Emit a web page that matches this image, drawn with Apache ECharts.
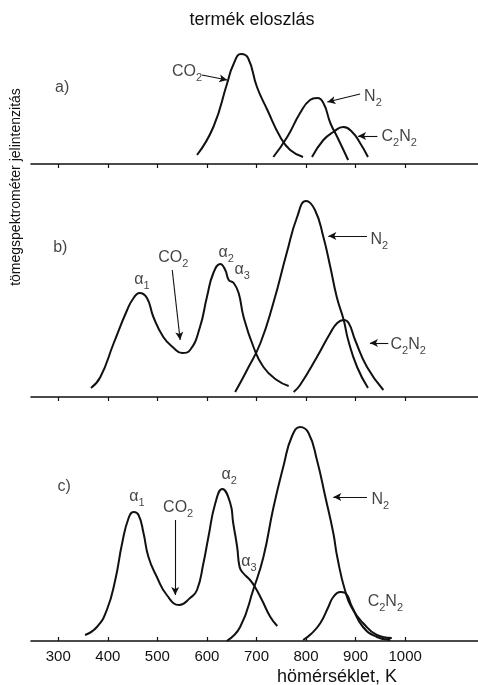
<!DOCTYPE html>
<html>
<head>
<meta charset="utf-8">
<script src="https://cdn.jsdelivr.net/npm/echarts@6/dist/echarts.min.js"></script>
<style>html,body{margin:0;padding:0;background:#fff;}#c{width:478px;height:685px;}</style>
</head>
<body>
<div id="c"></div>
<script>
// ---- data (temperature K, intensity arbitrary units) ----
const tickValues = [300, 400, 500, 600, 700, 800, 900, 1000];

const aCO2  = [[580,9],[613,37],[641,81],[653,99],[669,110],[683,106],[701,77],[722,54],[748,27],[768,14],[794,7]];
const aN2   = [[734,7],[762,27],[788,51],[808,64],[822,66],[835,61],[849,41],[863,27],[885,4]];
const aC2N2 = [[812,7],[835,24],[855,32],[875,37],[893,32],[909,21],[925,7]];

const bCO2  = [[366,9],[385,20],[412,54],[439,87],[452,99],[464,104],[479,99],[492,80],[512,60],[533,49],[550,44],[566,47],[586,70],[600,100],[613,124],[627,133],[637,127],[644,117],[654,114],[664,104],[674,80],[694,50],[714,30],[741,17],[765,11]];
const bN2   = [[657,5],[681,27],[708,54],[734,94],[761,144],[782,180],[800,196],[818,187],[835,160],[849,130],[862,100],[876,77],[885,57],[903,30],[925,9]];
const bC2N2 = [[775,5],[788,12],[822,40],[849,64],[863,74],[876,77],[886,74],[899,57],[923,30],[956,7]];

const cCO2  = [[354,6],[378,14],[398,31],[415,61],[429,98],[442,123],[452,129],[462,126],[472,108],[482,84],[499,64],[519,46],[544,36],[566,43],[580,51],[593,78],[603,104],[617,138],[631,152],[647,138],[653,118],[661,94],[666,74],[673,68],[687,61],[697,54],[711,41],[728,24],[742,15]];
const cN2   = [[640,0],[667,14],[694,52],[714,84],[734,133],[755,176],[771,204],[788,214],[805,208],[822,181],[839,144],[855,108],[863,84],[879,50],[895,31],[915,18],[943,6],[973,3]];
const cC2N2 = [[794,1],[810,7],[829,18],[845,34],[855,44],[869,49],[879,48],[893,34],[915,14],[943,4],[970,1]];

// annotation texts [T, I, text]
const aLabels = [[308,76,'a)'],[560,92,'CO2'],[935,67,'N2'],[988,27,'C2N2']];
const bLabels = [[304,149,'b)'],[469,117,'α1'],[532,139,'CO2'],[639,144,'α2'],[671,127,'α3'],[948,157,'N2'],[1006,52,'C2N2']];
const cLabels = [[312,154,'c)'],[459,144,'α1'],[542,133,'CO2'],[645,166,'α2'],[685,79,'α3'],[950,141,'N2'],[960,39,'C2N2']];

// annotation arrows [[T1,I1],[T2,I2]]
const aArrows = [[[590,89],[641,84]], [[909,70],[843,62]], [[944,28],[905,28]]];
const bArrows = [[[530,127],[546,57]], [[923,161],[845,161]], [[966,54],[929,54]]];
const cArrows = [[[536,121],[536,46]], [[923,144],[855,144]]];

const titleText = 'termék eloszlás';
const yTitle = 'tömegspektrométer jelintenzitás';
const xTitle = 'hömérséklet, K';

// ---- chart ----
const FONT = 'Liberation Sans';
const INK = '#111';
const xMin = 245, xMax = 1147;

function rich(t) {
  let out = '';
  for (const ch of t) {
    if (/[0-9]/.test(ch)) out += '{s|' + ch + '}';
    else out += '{n|' + ch + '}';
  }
  return out;
}

const panels = [
  {curves: [aCO2, aN2, aC2N2], labels: aLabels, arrows: aArrows, top: 40, h: 124},
  {curves: [bCO2, bN2, bC2N2], labels: bLabels, arrows: bArrows, top: 180, h: 217},
  {curves: [cCO2, cN2, cC2N2], labels: cLabels, arrows: cArrows, top: 420, h: 221}
];

const grid = [], xAxis = [], yAxis = [], series = [];
panels.forEach((p, i) => {
  grid.push({left: 31, right: 0, top: p.top, height: p.h});
  const last = i === 2;
  xAxis.push({
    type: 'value', gridIndex: i, min: xMin, max: xMax,
    axisLine: {show: true, lineStyle: {color: INK, width: 1.6}},
    axisTick: {show: true, inside: last, length: 4, customValues: tickValues, lineStyle: {color: INK, width: 1.2}},
    axisLabel: {show: last, customValues: tickValues, formatter: v => String(v), fontFamily: FONT, fontSize: 15, color: INK, margin: 8},
    splitLine: {show: false}
  });
  yAxis.push({type: 'value', gridIndex: i, min: 0, max: p.h, show: false});
  p.curves.forEach((c, k) => {
    const s = {
      type: 'line', xAxisIndex: i, yAxisIndex: i, data: c,
      showSymbol: false, smooth: 0.5, silent: true,
      lineStyle: {color: INK, width: 2}
    };
    if (k === 0) {
      s.markLine = {
        silent: true, symbol: ['none', 'arrow'], symbolSize: [6, 8],
        lineStyle: {color: INK, width: 1.1, type: 'solid'},
        label: {show: false},
        data: p.arrows.map(a => [{coord: a[0]}, {coord: a[1]}])
      };
    }
    series.push(s);
  });
  series.push({
    type: 'scatter', xAxisIndex: i, yAxisIndex: i, symbolSize: 0, silent: true,
    data: p.labels,
    label: {
      show: true, position: 'inside', color: INK, lineHeight: 22,
      formatter: q => rich(q.data[2]),
      rich: {
        n: {fontFamily: FONT, fontSize: 16, color: INK, verticalAlign: 'middle'},
        s: {fontFamily: FONT, fontSize: 11, color: INK, verticalAlign: 'bottom'}
      }
    }
  });
});

const chart = echarts.init(document.getElementById('c'), null, {renderer: 'canvas'});
chart.setOption({
  backgroundColor: '#fff',
  animation: false,
  grid, xAxis, yAxis, series,
  graphic: [
    {type: 'text', x: 252, y: 20, style: {text: titleText, fontFamily: FONT, fontSize: 18, fill: INK, textAlign: 'center', textVerticalAlign: 'middle'}},
    {type: 'text', x: 16, y: 187, rotation: Math.PI / 2, style: {text: yTitle, fontFamily: FONT, fontSize: 14, fill: INK, textAlign: 'center', textVerticalAlign: 'middle'}},
    {type: 'text', x: 337, y: 677, style: {text: xTitle, fontFamily: FONT, fontSize: 18, fill: INK, textAlign: 'center', textVerticalAlign: 'middle'}}
  ]
});
</script>
</body>
</html>
